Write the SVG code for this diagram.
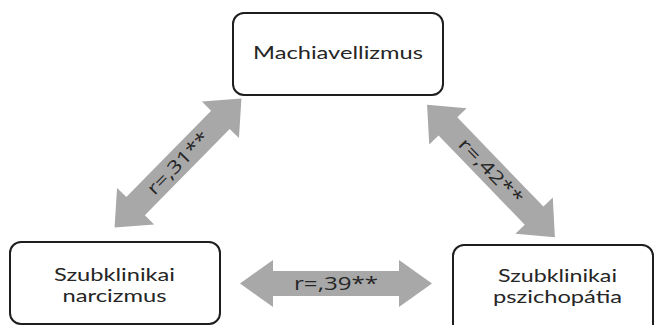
<svg xmlns="http://www.w3.org/2000/svg" width="656" height="325" viewBox="0 0 656 325">
<style>
.box{fill:#fff;stroke:#1e1e1e;stroke-width:2}
.t{font-family:Lato,"Open Sans",sans-serif;font-size:18px;fill:#262626;text-anchor:middle}
.r{font-family:"Open Sans","Noto Sans",sans-serif;font-size:18px;fill:#262626;text-anchor:middle}
.arr{fill:#a8a8a8}
</style>
<rect width="656" height="325" fill="#fff"/>
<g id="connectors">
<g transform="translate(336,283.5)">
<path class="arr" d="M-96,0 L-63,-23.5 L-63,-12.5 L63,-12.5 L63,-23.5 L96,0 L63,23.5 L63,12.5 L-63,12.5 L-63,23.5 Z"/>
<text class="r" x="0" y="6.5" textLength="84" lengthAdjust="spacingAndGlyphs">r=,39**</text>
</g>
<g transform="translate(178,163) rotate(-45.5)">
<path class="arr" d="M-90.5,0 L-60.5,-26 L-60.5,-13 L60.5,-13 L60.5,-26 L90.5,0 L60.5,26 L60.5,13 L-60.5,13 L-60.5,26 Z"/>
<text class="r" x="0" y="6.5" textLength="80" lengthAdjust="spacingAndGlyphs">r=,31**</text>
</g>
<g transform="translate(491,171) rotate(46)">
<path class="arr" d="M-92,0 L-62,-26 L-62,-13 L62,-13 L62,-26 L92,0 L62,26 L62,13 L-62,13 L-62,26 Z"/>
<text class="r" x="0" y="6.5" textLength="84" lengthAdjust="spacingAndGlyphs">r=,42**</text>
</g>
</g>
<g id="machiavellizmus">
<rect class="box" x="233" y="13" width="210" height="82" rx="11"/>
<text class="t" x="338" y="59" textLength="170" lengthAdjust="spacingAndGlyphs">Machiavellizmus</text>
</g>
<g id="narcizmus">
<rect class="box" x="10" y="242" width="210" height="82" rx="11"/>
<text class="t" x="114.5" y="281" textLength="121" lengthAdjust="spacingAndGlyphs">Szubklinikai</text>
<text class="t" x="114.5" y="302" textLength="104" lengthAdjust="spacingAndGlyphs">narcizmus</text>
</g>
<g id="pszichopatia">
<rect class="box" x="453" y="245" width="200" height="90" rx="11"/>
<text class="t" x="557.5" y="282" textLength="119" lengthAdjust="spacingAndGlyphs">Szubklinikai</text>
<text class="t" x="557.5" y="303" textLength="129" lengthAdjust="spacingAndGlyphs">pszichopátia</text>
</g>
</svg>
